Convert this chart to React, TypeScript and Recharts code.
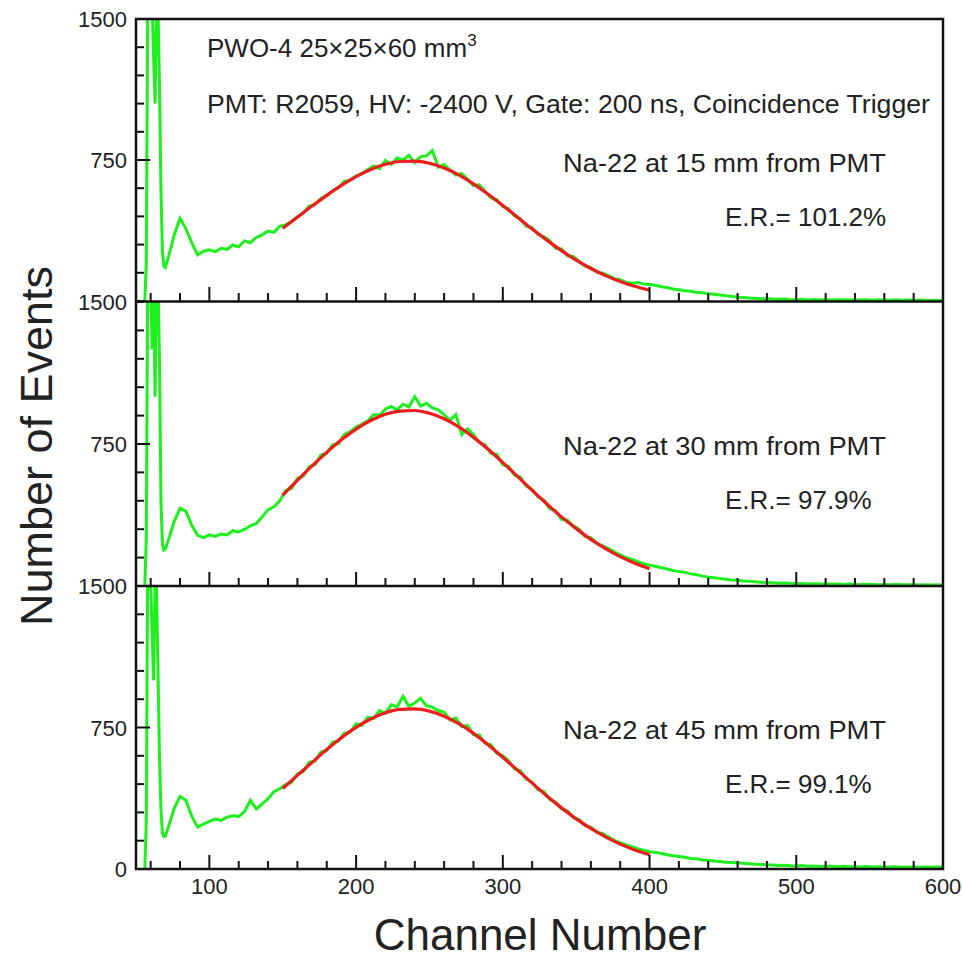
import React from "react";
import { Line, LineChart, XAxis, YAxis } from "recharts";

// channel bins (x) shared by the three spectra
const CHANNELS = [
  56, 57, 58, 59, 60, 61, 62, 63, 64, 65, 66, 67, 68, 69, 70,
  72, 76, 80, 84, 88, 92, 96, 100, 104, 108, 112, 116, 120, 124, 128, 132, 136, 140, 144, 148,
  152, 156, 160, 164, 168, 172, 176, 180, 184, 188, 192, 196, 200, 204, 208, 212, 216, 220, 224, 228,
  232, 236, 240, 244, 248, 252, 256, 260, 264, 268, 272, 276, 280, 284, 288, 292, 296, 300, 304, 308,
  312, 316, 320, 324, 328, 332, 336, 340, 344, 348, 352, 356, 360, 364, 368, 372, 376, 380, 384, 388,
  392, 396,
  400, 404, 408, 412, 416, 420, 424, 428, 432, 436, 440, 444, 448, 452, 456, 460, 464, 468, 472, 476,
  480, 484, 488, 492, 496, 500, 504, 508, 512, 516, 520, 524, 528, 532, 536, 540, 544, 548, 552, 556,
  560, 564, 568, 572, 576, 580, 584, 588, 592, 596, 600
];

const GREEN_15 = [
  0, 200, 1600, 1700, 1650, 1580, 1300, 1050, 1600, 1550, 1150, 600, 260, 185, 178,
  230, 350, 440, 385, 310, 245, 265, 272, 262, 280, 275, 298, 288, 320, 310, 338, 352, 372, 365, 398,
  405, 422, 448, 468, 505, 512, 545, 562, 586, 604, 636, 642, 666, 676, 700, 718, 704, 748, 726, 762,
  750, 775, 736, 768, 772, 800, 712, 726, 698, 670, 678, 648, 614, 618, 582, 548, 538, 502, 490, 452,
  438, 398, 390, 354, 343, 320, 280, 277, 240, 237, 211, 186, 178, 154, 148, 135, 119, 113, 99, 95,
  98, 90,
  88, 84, 76, 72, 64, 60, 55, 52, 46, 44, 38, 36, 32, 28, 25, 20, 19, 16, 15, 12,
  12, 10, 9, 10, 8, 7, 9, 6, 8, 6, 7, 5, 7, 6, 5, 7, 5, 6, 4, 6,
  5, 4, 6, 4, 5, 3, 5, 4, 3, 4, 3
];

const GREEN_30 = [
  0, 250, 1650, 1600, 1580, 1250, 1500, 1000, 1650, 1600, 1200, 450, 220, 190, 195,
  240, 340, 410, 395, 320, 268, 255, 270, 262, 275, 270, 292, 285, 300, 318, 330, 365, 402, 418, 450,
  505, 515, 568, 580, 630, 640, 692, 700, 745, 752, 800, 815, 840, 855, 872, 905, 900, 935, 948, 930,
  960, 945, 1000, 950, 965, 940, 930, 905, 875, 905, 800, 830, 800, 758, 745, 700, 695, 640, 632, 585,
  575, 528, 510, 470, 455, 408, 398, 352, 348, 318, 300, 262, 255, 228, 212, 198, 180, 165, 150, 140,
  128, 118,
  110, 104, 96, 90, 82, 76, 72, 64, 60, 52, 46, 44, 40, 36, 32, 30, 27, 25, 22, 20,
  19, 17, 15, 16, 14, 12, 13, 11, 12, 10, 11, 9, 10, 8, 10, 9, 7, 9, 8, 7,
  8, 6, 8, 7, 6, 7, 5, 6, 5, 6, 5
];

const GREEN_45 = [
  0, 250, 1650, 1550, 1500, 1250, 1000, 1550, 1480, 1050, 600, 320, 190, 172, 175,
  220, 320, 385, 365, 280, 222, 238, 252, 265, 258, 275, 282, 278, 305, 365, 318, 345, 372, 410, 425,
  448, 460, 505, 515, 565, 572, 620, 628, 672, 678, 720, 725, 770, 762, 805, 798, 840, 825, 870, 860,
  915, 862, 880, 905, 865, 858, 840, 832, 790, 800, 755, 760, 712, 710, 665, 658, 612, 600, 572, 530,
  520, 476, 460, 420, 410, 368, 355, 318, 308, 272, 262, 230, 222, 195, 188, 170, 152, 140, 128, 118,
  108, 100,
  92, 88, 82, 76, 70, 66, 62, 56, 54, 48, 46, 42, 40, 36, 34, 32, 30, 28, 25, 24,
  22, 21, 19, 20, 17, 16, 18, 15, 16, 13, 15, 14, 12, 14, 12, 13, 11, 13, 10, 12,
  11, 10, 12, 9, 11, 10, 9, 11, 9, 10, 9
];

// gaussian fit curves, 150..400
const FIT_CHANNELS = [150, 160, 170, 180, 190, 200, 210, 220, 230, 240, 250, 260, 270, 280, 290, 300, 310, 320, 330, 340, 350, 360, 370, 380, 390, 400];
const FIT_15 = [387, 446, 505, 562, 615, 662, 700, 727, 742, 744, 733, 708, 671, 623, 568, 508, 446, 383, 324, 268, 217, 173, 135, 104, 78, 57];
const FIT_30 = [480, 558, 634, 706, 772, 829, 874, 907, 924, 927, 912, 883, 840, 785, 722, 652, 579, 505, 433, 365, 303, 246, 197, 155, 120, 91];
const FIT_45 = [427, 496, 565, 633, 696, 751, 795, 828, 846, 849, 837, 810, 770, 719, 659, 592, 524, 455, 387, 324, 266, 215, 170, 132, 101, 76];

const Y_TICKS = [0, 150, 300, 450, 600, 750, 900, 1050, 1200, 1350, 1500];
const X_TICKS = [60, 80, 100, 120, 140, 160, 180, 200, 220, 240, 260, 280, 300, 320, 340, 360, 380, 400, 420, 440, 460, 480, 500, 520, 540, 560, 580, 600];
const X_LABELS = [100, 200, 300, 400, 500, 600];

const PANELS = [
  { green: GREEN_15, fit: FIT_15, top: 19, height: 282, source: "Na-22 at 15 mm from PMT", er: "E.R.= 101.2%" },
  { green: GREEN_30, fit: FIT_30, top: 302, height: 284, source: "Na-22 at 30 mm from PMT", er: "E.R.= 97.9%" },
  { green: GREEN_45, fit: FIT_45, top: 586, height: 283, source: "Na-22 at 45 mm from PMT", er: "E.R.= 99.1%" }
];

const FONT = "'Liberation Sans', Arial, Helvetica, sans-serif";
const INK = "#222";
const PLOT_LEFT = 136;
const PLOT_RIGHT = 943;
const MT = 16;

function Panel({ green, fit, top, height, bottom }: any) {
  const xAxisH = bottom ? 40 : 1;
  const plotBottom = MT + height;
  const greenData = CHANNELS.map((ch, i) => ({ ch, v: green[i] }));
  const fitData = FIT_CHANNELS.map((ch, i) => ({ ch, v: fit[i] }));

  const xTick = (props: any) => {
    const { x, payload } = props;
    const v = payload.value;
    const len = v % 100 === 0 ? 14 : 8;
    return (
      <g>
        <line x1={x} x2={x} y1={plotBottom} y2={plotBottom - len} stroke="#111" strokeWidth={2} />
        {bottom && X_LABELS.includes(v) && (
          <text x={x} y={plotBottom + 25} textAnchor="middle" fontSize={22} fontFamily={FONT} fill={INK}>
            {v}
          </text>
        )}
      </g>
    );
  };

  const yTick = (props: any) => {
    const { y, payload } = props;
    const v = payload.value;
    const len = v === 750 ? 14 : 8;
    const label = v === 750 || v === 1500 || (bottom && v === 0);
    return (
      <g>
        <line x1={PLOT_LEFT} x2={PLOT_LEFT + len} y1={y} y2={y} stroke="#111" strokeWidth={2} />
        {label && (
          <text x={PLOT_LEFT - 9} y={y + 8} textAnchor="end" fontSize={22} fontFamily={FONT} fill={INK}>
            {v}
          </text>
        )}
      </g>
    );
  };

  return (
    <div style={{ position: "absolute", left: 0, top: top - MT }}>
      <LineChart width={963} height={MT + height + xAxisH} margin={{ top: MT, right: 963 - PLOT_RIGHT, bottom: 0, left: 76 }}>
        <XAxis
          dataKey="ch"
          type="number"
          domain={[50, 600]}
          ticks={X_TICKS}
          interval={0}
          allowDataOverflow
          axisLine={false}
          tickLine={false}
          height={xAxisH}
          tick={xTick}
        />
        <YAxis
          type="number"
          domain={[0, 1500]}
          ticks={Y_TICKS}
          interval={0}
          allowDataOverflow
          axisLine={false}
          tickLine={false}
          width={60}
          tick={yTick}
        />
        <Line data={greenData} dataKey="v" type="linear" stroke="#1ef01e" strokeWidth={3} dot={false} isAnimationActive={false} />
        <Line data={fitData} dataKey="v" type="monotone" stroke="#ee1c1c" strokeWidth={3.2} dot={false} isAnimationActive={false} />
      </LineChart>
    </div>
  );
}

export default function App() {
  return (
    <div style={{ position: "absolute", left: 0, top: 0, width: 963, height: 958, background: "#fff" }}>
      {PANELS.map((p, i) => (
        <Panel key={i} {...p} bottom={i === PANELS.length - 1} />
      ))}
      <svg width={963} height={958} style={{ position: "absolute", left: 0, top: 0, pointerEvents: "none" }}>
        <rect x={PLOT_LEFT} y={19} width={PLOT_RIGHT - PLOT_LEFT} height={869 - 19} fill="none" stroke="#111" strokeWidth={2.5} />
        <line x1={PLOT_LEFT} x2={PLOT_RIGHT} y1={301.5} y2={301.5} stroke="#111" strokeWidth={2.5} />
        <line x1={PLOT_LEFT} x2={PLOT_RIGHT} y1={586} y2={586} stroke="#111" strokeWidth={2.5} />
        <g fontFamily={FONT} fill={INK}>
          <text x={207} y={57} fontSize={26}>
            PWO-4 25×25×60 mm<tspan fontSize={17} dy={-11}>3</tspan>
          </text>
          <text x={207} y={113} fontSize={26} textLength={723} lengthAdjust="spacingAndGlyphs">
            PMT: R2059, HV: -2400 V, Gate: 200 ns, Coincidence Trigger
          </text>
          {PANELS.map((p, i) => (
            <g key={i}>
              <text x={563} y={p.top + 153} fontSize={26} textLength={323} lengthAdjust="spacingAndGlyphs">{p.source}</text>
              <text x={725} y={p.top + 207} fontSize={26}>{p.er}</text>
            </g>
          ))}
          <text x={540} y={950} fontSize={44} textAnchor="middle">Channel Number</text>
          <text transform="translate(52,446) rotate(-90)" fontSize={45} textAnchor="middle">Number of Events</text>
        </g>
      </svg>
    </div>
  );
}
